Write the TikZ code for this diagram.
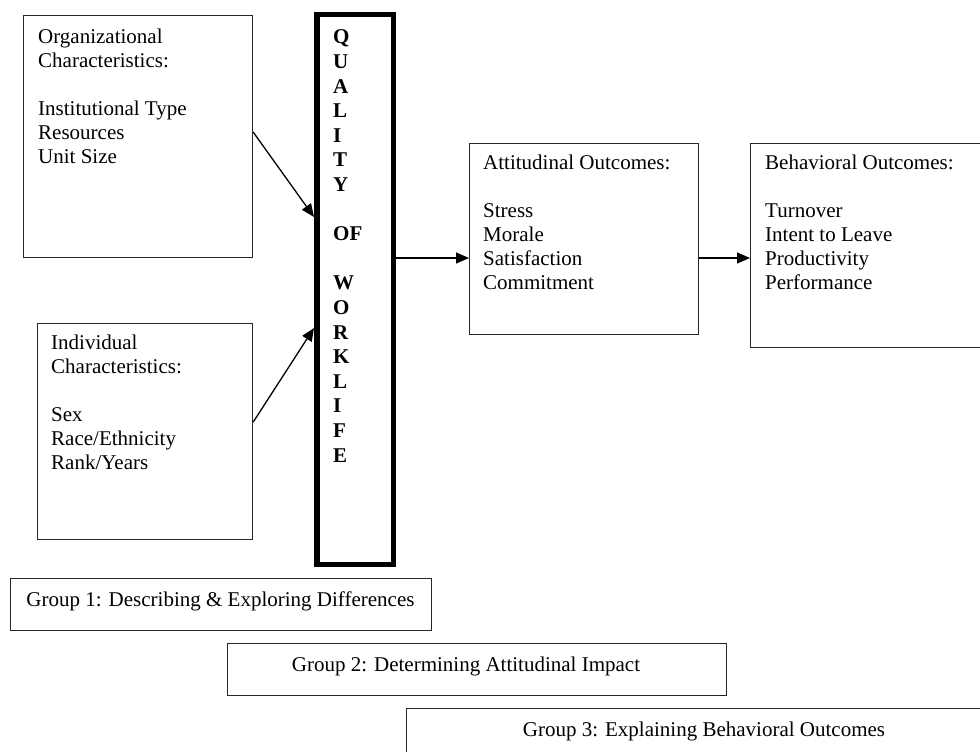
\documentclass[tikz,border=0pt]{standalone}
\usepackage{fontspec}
\setmainfont{Liberation Serif}
\usetikzlibrary{arrows.meta}
\begin{document}
\begin{tikzpicture}[x=1pt,y=-1pt,
  box/.style={draw=black!85, line width=1.2pt, anchor=north west, inner sep=0pt},
  qbox/.style={draw=black, line width=5.5pt, anchor=north west, inner sep=0pt},
  txt/.style={anchor=north west, inner sep=0pt, align=left,
    font=\fontsize{21pt}{24pt}\selectfont},
  qtxt/.style={anchor=north west, inner sep=0pt, align=left,
    font=\fontsize{21pt}{24.6pt}\selectfont\bfseries},
  lbl/.style={anchor=base, inner sep=0pt, font=\fontsize{21pt}{24pt}\selectfont},
  arr/.style={draw=black, line width=1.3pt, -{Triangle[length=13pt,width=11pt]}}
]
\useasboundingbox (0,0) rectangle (980,752);
\clip (0,0) rectangle (980,752);

% input boxes
\node[box, minimum width=229pt, minimum height=242pt] (org) at (23,15) {};
\node[txt] (orgt) at (38,28.6)
  {Organizational\\Characteristics:\\[24pt]Institutional Type\\Resources\\Unit Size};

\node[box, minimum width=215pt, minimum height=216pt] (indiv) at (37,323) {};
\node[txt] (indivt) at (51,334.6)
  {Individual\\Characteristics:\\[24pt]Sex\\Race/Ethnicity\\Rank/Years};

% central construct
\node[qbox, minimum width=76.5pt, minimum height=549.5pt] (qwl) at (314,12) {};
\node[qtxt] (qwlt) at (333,29.8)
  {Q\\U\\A\\L\\I\\T\\Y\\[24.6pt]OF\\[24.6pt]W\\O\\R\\K\\L\\I\\F\\E};

% outcome boxes
\node[box, minimum width=229pt, minimum height=191pt] (att) at (469,143) {};
\node[txt] (attt) at (483,154.6)
  {Attitudinal Outcomes:\\[24pt]Stress\\Morale\\Satisfaction\\Commitment};

\node[box, minimum width=260pt, minimum height=204pt] (beh) at (750,143) {};
\node[txt] (beht) at (765,154.6)
  {Behavioral Outcomes:\\[24pt]Turnover\\Intent to Leave\\Productivity\\Performance};

% connectors
\draw[arr] ([yshift=4.5pt]org.east) -- ([yshift=72.5pt]qwl.west);
\draw[arr] ([yshift=9.5pt]indiv.east) -- ([yshift=-38.5pt]qwl.west);
\coordinate (flow) at ([yshift=31.5pt]qwl.east);
\draw[arr] (flow) -- (att.west |- flow);
\draw[arr] (att.east |- flow) -- (beh.west |- flow);

% study groups
\node[box, minimum width=421pt, minimum height=52pt] (g1) at (10,578) {};
\node[lbl] (g1t) at (220.5,606) {Group 1: Describing \& Exploring Differences};

\node[box, minimum width=499pt, minimum height=52pt] (g2) at (227,643) {};
\node[lbl] (g2t) at (466,671) {Group 2: Determining Attitudinal Impact};

\node[box, minimum width=595pt, minimum height=52pt] (g3) at (406,708) {};
\node[lbl] (g3t) at (704,736) {Group 3: Explaining Behavioral Outcomes};
\end{tikzpicture}
\end{document}
